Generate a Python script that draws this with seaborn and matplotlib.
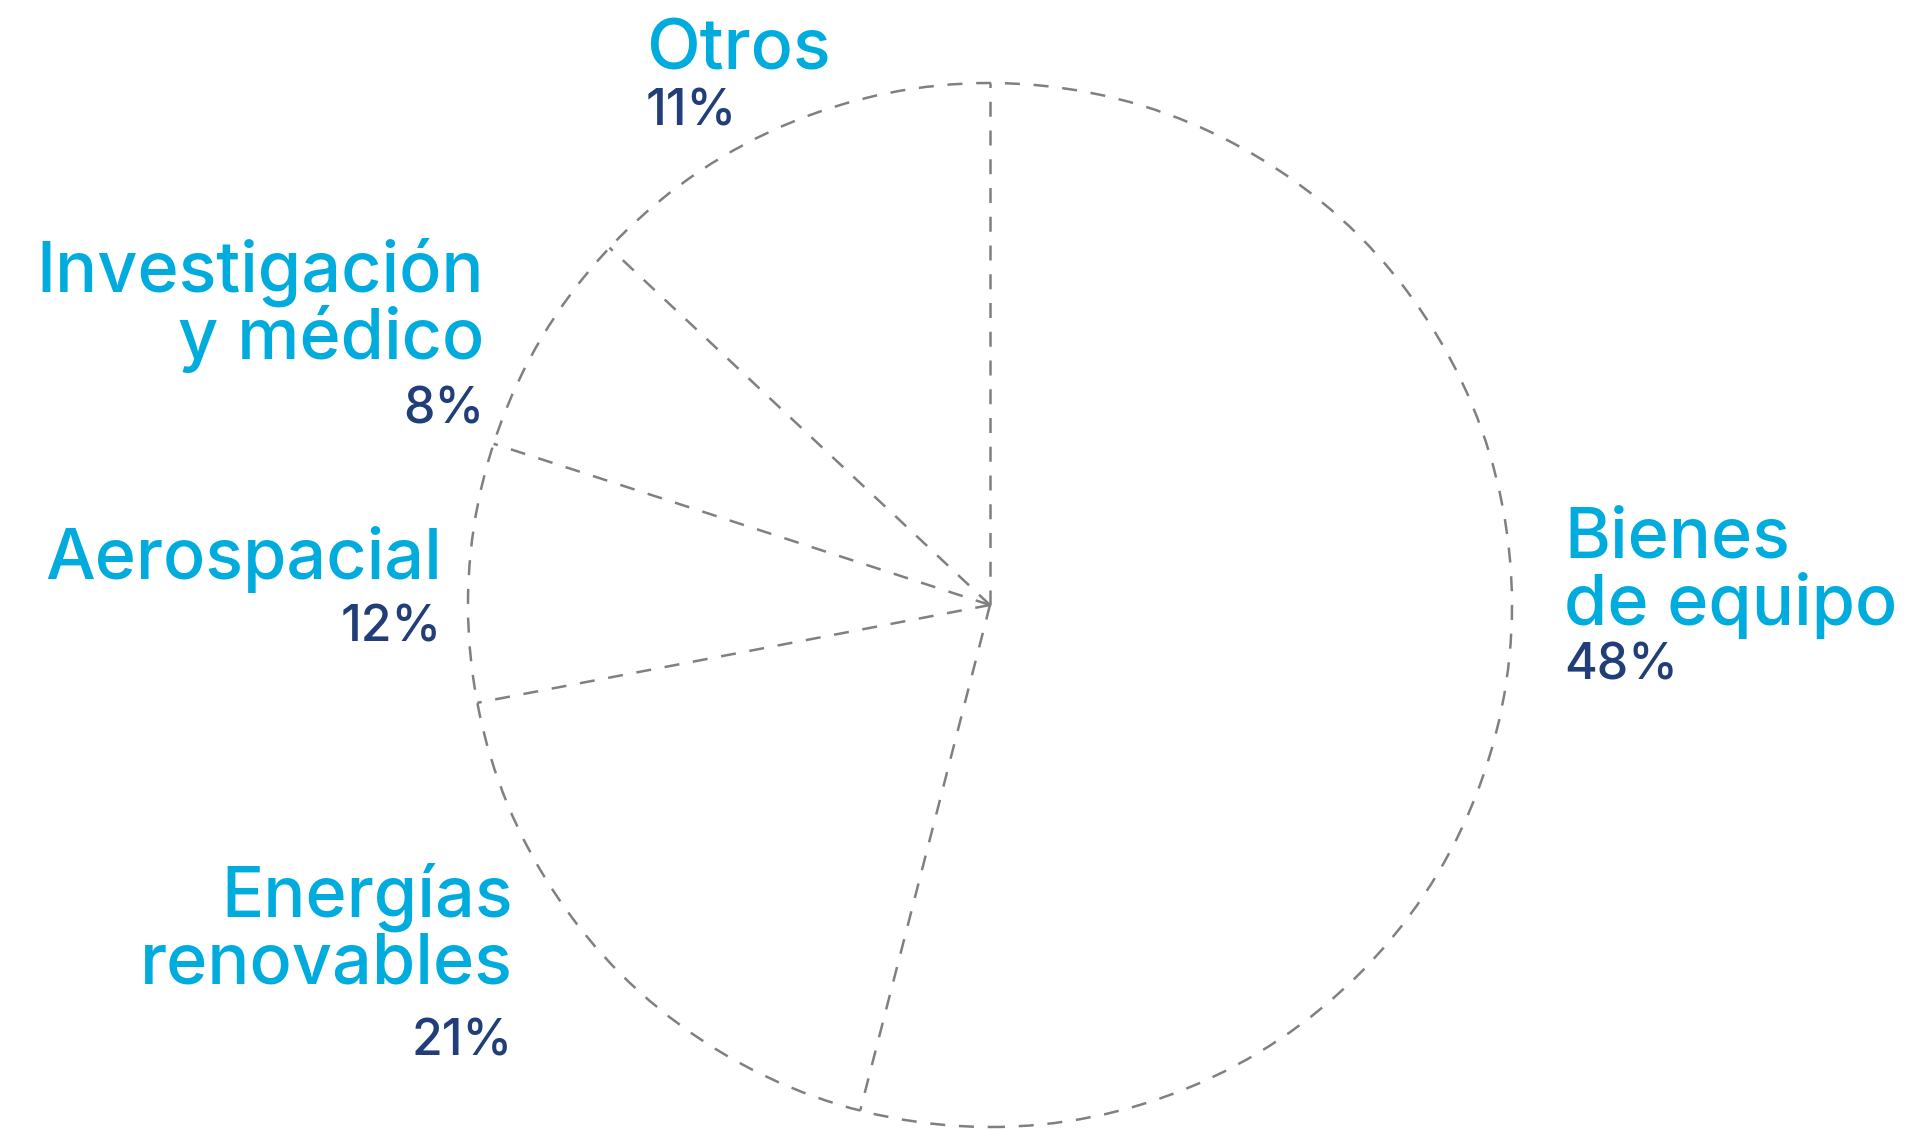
import numpy as np
import seaborn as sns
import matplotlib.pyplot as plt
from matplotlib.patches import Circle

# data
sectors = ["Bienes\nde equipo", "Energías\nrenovables", "Aerospacial",
           "Investigación\ny médico", "Otros"]
pct_text = ["48%", "21%", "12%", "8%", "11%"]
# wedge sizes as drawn in the picture (the drawing is not to scale with the labels)
shares = [54, 18, 8, 7, 13]

W, H = 1911, 1131
CYAN = "#00ABDD"
NAVY = "#213E78"
GREY = "#808080"

sns.set_theme(style="white")
plt.rcParams["font.family"] = ["Inter", "DejaVu Sans"]

fig = plt.figure(figsize=(W / 100, H / 100), dpi=100)
ax = fig.add_axes([0, 0, 1, 1])

cx, cy, r = 990, H - 605, 522
wedges, _ = ax.pie(shares, startangle=90, counterclock=False,
                   center=(cx, cy), radius=r,
                   colors=["white"] * len(shares),
                   wedgeprops=dict(edgecolor="none"))

dash = (0, (6, 5.5))
ax.add_patch(Circle((cx, cy), r, fill=False, edgecolor=GREY, lw=1.8, linestyle=dash))
for w in wedges:
    a = np.deg2rad(w.theta1)
    ax.plot([cx, cx + r * np.cos(a)], [cy, cy + r * np.sin(a)],
            color=GREY, lw=1.8, linestyle=dash)

# label anchors (x, baseline of first line, pct baseline, align) in pixels from top-left
layout = [
    (1564, 558, 679, "left"),
    (513, 917, 1055, "right"),
    (442, 579, 642, "right"),
    (484, 292, 423, "right"),
    (646, 69, 126, "left"),
]
line_gap = 67
for name, pct, (x, y0, yp, ha) in zip(sectors, pct_text, layout):
    for i, line in enumerate(name.split("\n")):
        ax.text(x, H - (y0 + i * line_gap), line, ha=ha, va="baseline",
                fontsize=50.5, color=CYAN, fontweight="medium")
    ax.text(x, H - yp, pct, ha=ha, va="baseline", fontsize=36,
            color=NAVY, fontweight="medium")

ax.set_xlim(0, W)
ax.set_ylim(0, H)
ax.set_aspect("equal")
ax.axis("off")

fig.savefig("out.png", dpi=100, facecolor="white")
